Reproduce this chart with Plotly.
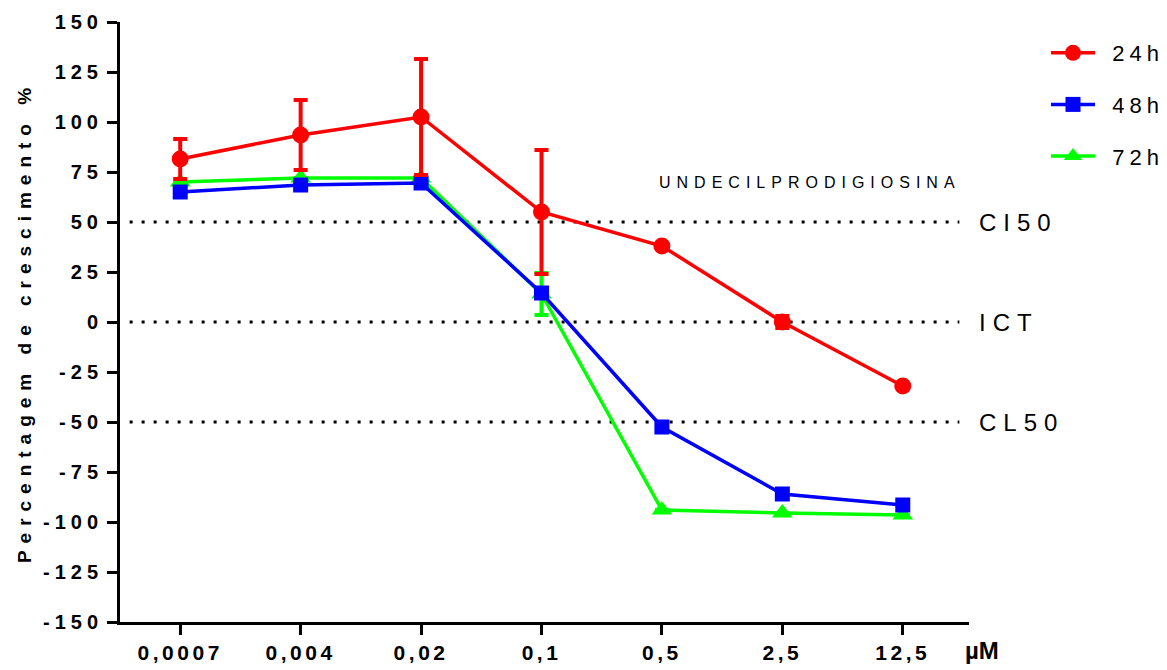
import plotly.graph_objects as go

categories = ["0,0007", "0,004", "0,02", "0,1", "0,5", "2,5", "12,5"]
h24 = [81.5, 93.5, 102.5, 55, 38, 0, -32]
h24_err = [10, 17.5, 29, 31, 0, 3, 0]
h48 = [65, 68.5, 69.5, 14.5, -52.5, -86, -91.5]
h72 = [70, 72, 72, 14, -94, -95.5, -96.5]
h72_err = [0, 0, 0, 10.5, 0, 0, 0]
y_ticks = list(range(-150, 151, 25))
ref_levels = [50, 0, -50]
ref_labels = ["CI50", "ICT", "CL50"]

xs = list(range(len(categories)))
FONT = "Liberation Sans, Arial, sans-serif"

# plot area in pixels: x 120..969, y 22..622
PL, PR, PT, PB = 120, 969, 22, 622


def px2paper_x(px):
    return (px - PL) / (PR - PL)


def px2paper_y(py):
    return (PB - py) / (PB - PT)


def sp(t, s):
    return f'<span style="letter-spacing:{s}px">{t}</span>'


def legname(t):
    return "&nbsp;&nbsp;" + sp(t, 5)


fig = go.Figure()
fig.add_trace(go.Scatter(
    x=xs, y=h72, name=legname("72h"), mode="lines+markers", legendgroup="c", legendrank=3,
    line=dict(color="#00ff00", width=3.5),
    marker=dict(symbol="triangle-up", size=18, color="#00ff00"),
    error_y=dict(type="data", array=h72_err, color="#00ff00", thickness=4, width=7),
))
fig.add_trace(go.Scatter(
    x=xs, y=h48, name=legname("48h"), mode="lines+markers", legendgroup="b", legendrank=2,
    line=dict(color="#0000ff", width=3.5),
    marker=dict(symbol="square", size=15, color="#0000ff"),
))
fig.add_trace(go.Scatter(
    x=xs, y=h24, name=legname("24h"), mode="lines+markers", legendgroup="a", legendrank=1,
    line=dict(color="#ff0000", width=3.5),
    marker=dict(symbol="circle", size=17, color="#ff0000"),
    error_y=dict(type="data", array=h24_err, color="#ff0000", thickness=4, width=7),
))

for lv, lb in zip(ref_levels, ref_labels):
    fig.add_shape(type="line", xref="x", yref="y", x0=-0.42, x1=6.47, y0=lv, y1=lv,
                  line=dict(color="black", width=3, dash="3px,9px"), layer="below")
    fig.add_annotation(x=px2paper_x(977), y=lv, xref="paper", yref="y", text=sp(lb, 7),
                       showarrow=False, xanchor="left", yanchor="middle",
                       font=dict(family=FONT, size=24, color="black"))

fig.add_annotation(x=px2paper_x(810), y=px2paper_y(182), xref="paper", yref="paper",
                   text=sp("UNDECILPRODIGIOSINA", 6),
                   showarrow=False, xanchor="center", yanchor="middle",
                   font=dict(family=FONT, size=16, color="black"))
fig.add_annotation(x=px2paper_x(982), y=px2paper_y(650), xref="paper", yref="paper",
                   text="<b>µM</b>",
                   showarrow=False, xanchor="center", yanchor="middle",
                   font=dict(family=FONT, size=24, color="black"))

fig.update_layout(
    width=1167, height=670,
    margin=dict(l=PL, r=1167 - PR, t=PT, b=670 - PB, autoexpand=False),
    plot_bgcolor="white", paper_bgcolor="white",
    showlegend=True,
    legend=dict(x=px2paper_x(1046), y=px2paper_y(32), xanchor="left", yanchor="top",
                traceorder="grouped", tracegroupgap=20, itemwidth=44,
                font=dict(family=FONT, size=22, color="black"),
                bgcolor="rgba(0,0,0,0)"),
    font=dict(family=FONT, color="black"),
)
fig.update_xaxes(
    range=[-0.5, 6.55], tickvals=xs, ticktext=[f"<b>{sp(c, 3.5)}</b>" for c in categories],
    showgrid=False, zeroline=False, showline=True, linecolor="black", linewidth=3,
    ticks="outside", ticklen=10, tickwidth=3, tickcolor="black", automargin=False,
    tickfont=dict(family=FONT, size=21, color="black"),
)
fig.update_yaxes(
    range=[-150, 150], tickvals=y_ticks, ticktext=[f"<b>{sp(str(v), 5)}</b>" for v in y_ticks],
    showgrid=False, zeroline=False, showline=True, linecolor="black", linewidth=3,
    ticks="outside", ticklen=10, tickwidth=3, tickcolor="black", automargin=False,
    tickfont=dict(family=FONT, size=20, color="black"),
    title=dict(text=f"<b>{sp('Percentagem de crescimento %', 7)}</b>",
               font=dict(family=FONT, size=19, color="black"), standoff=7),
)

fig.write_html("out.html")
